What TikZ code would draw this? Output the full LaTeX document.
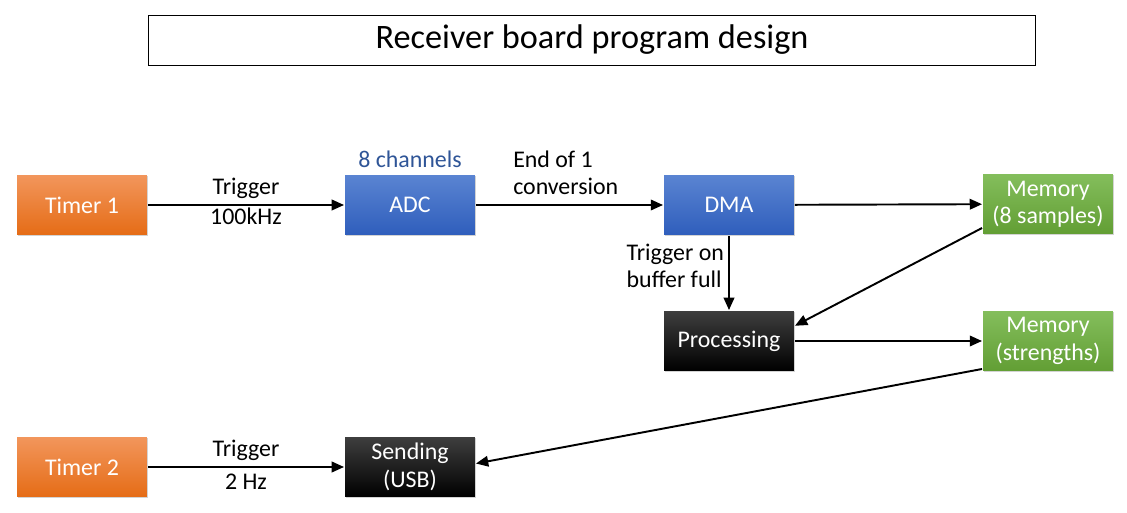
\documentclass[tikz,border=0pt]{standalone}
\usepackage{fontspec}
\setmainfont{Carlito}
\usepackage{xcolor}
\usetikzlibrary{arrows.meta}
\usetikzlibrary{shadows}

\definecolor{orangetop}{RGB}{242,150,92}
\definecolor{orangebot}{RGB}{229,108,22}
\definecolor{bluetop}{RGB}{90,132,210}
\definecolor{bluebot}{RGB}{47,94,188}
\definecolor{greentop}{RGB}{132,190,92}
\definecolor{greenbot}{RGB}{98,158,52}
\definecolor{blacktop}{RGB}{62,62,62}
\definecolor{chantext}{RGB}{47,85,151}

\begin{document}
\begin{tikzpicture}[x=0.02cm,y=-0.02cm,
    font=\fontsize{13.6}{15.6}\selectfont,
    blk/.style={minimum width=2.6cm,minimum height=1.2cm,inner sep=0pt,
      text=white,align=center,
      drop shadow={opacity=.35,shadow xshift=.8pt,shadow yshift=-.8pt}},
    tmr/.style={blk,top color=orangetop,bottom color=orangebot},
    hw/.style={blk,top color=bluetop,bottom color=bluebot},
    mem/.style={blk,top color=greentop,bottom color=greenbot},
    sw/.style={blk,top color=blacktop,bottom color=black},
    every path/.style={line width=1.1pt},
    >={Triangle[length=7pt,width=6pt]}]
  \useasboundingbox (0,0) rectangle (1127,513);

  \node (ttl) [draw,line width=.5pt,minimum width=17.76cm,minimum height=1cm,
    font=\fontsize{19.5}{22}\selectfont] at (592,40) {Receiver board program design};

  \node (tm1) [tmr] at (82,205) {Timer 1};
  \node (adc) [hw] at (410,205) {ADC};
  \node (dma) [hw] at (729,205) {DMA};
  \node (mem1) [mem] at (1048,204) {Memory\\(8 samples)};
  \node (proc) [sw] at (729,341) {Processing};
  \node (mem2) [mem] at (1048,341) {Memory\\(strengths)};
  \node (tm2) [tmr] at (82,467) {Timer 2};
  \node (snd) [sw] at (410,467) {Sending\\(USB)};

  \node (ch) [above=0pt,text=chantext] at (adc.north) {8 channels};

  \draw[->] (tm1) -- (adc)
    node [midway,above] {Trigger}
    node [midway,below=-2pt] {100kHz};
  \draw[->] (adc) -- (dma)
    node [pos=.48,above=2pt,align=left] {End of 1\\conversion};
  \draw[->] (dma) -- (mem1);
  \draw[->] (dma) -- (proc)
    node [pos=.4,left=-1pt,align=left] {Trigger on\\buffer full};
  \draw[->] (mem1.200) -- (proc.13);
  \draw[->] (proc) -- (mem2);
  \draw[->] (mem2.203) -- (snd.3);
  \draw[->] (tm2) -- (snd)
    node [midway,above] {Trigger}
    node [midway,below] {2 Hz};
\end{tikzpicture}
\end{document}
